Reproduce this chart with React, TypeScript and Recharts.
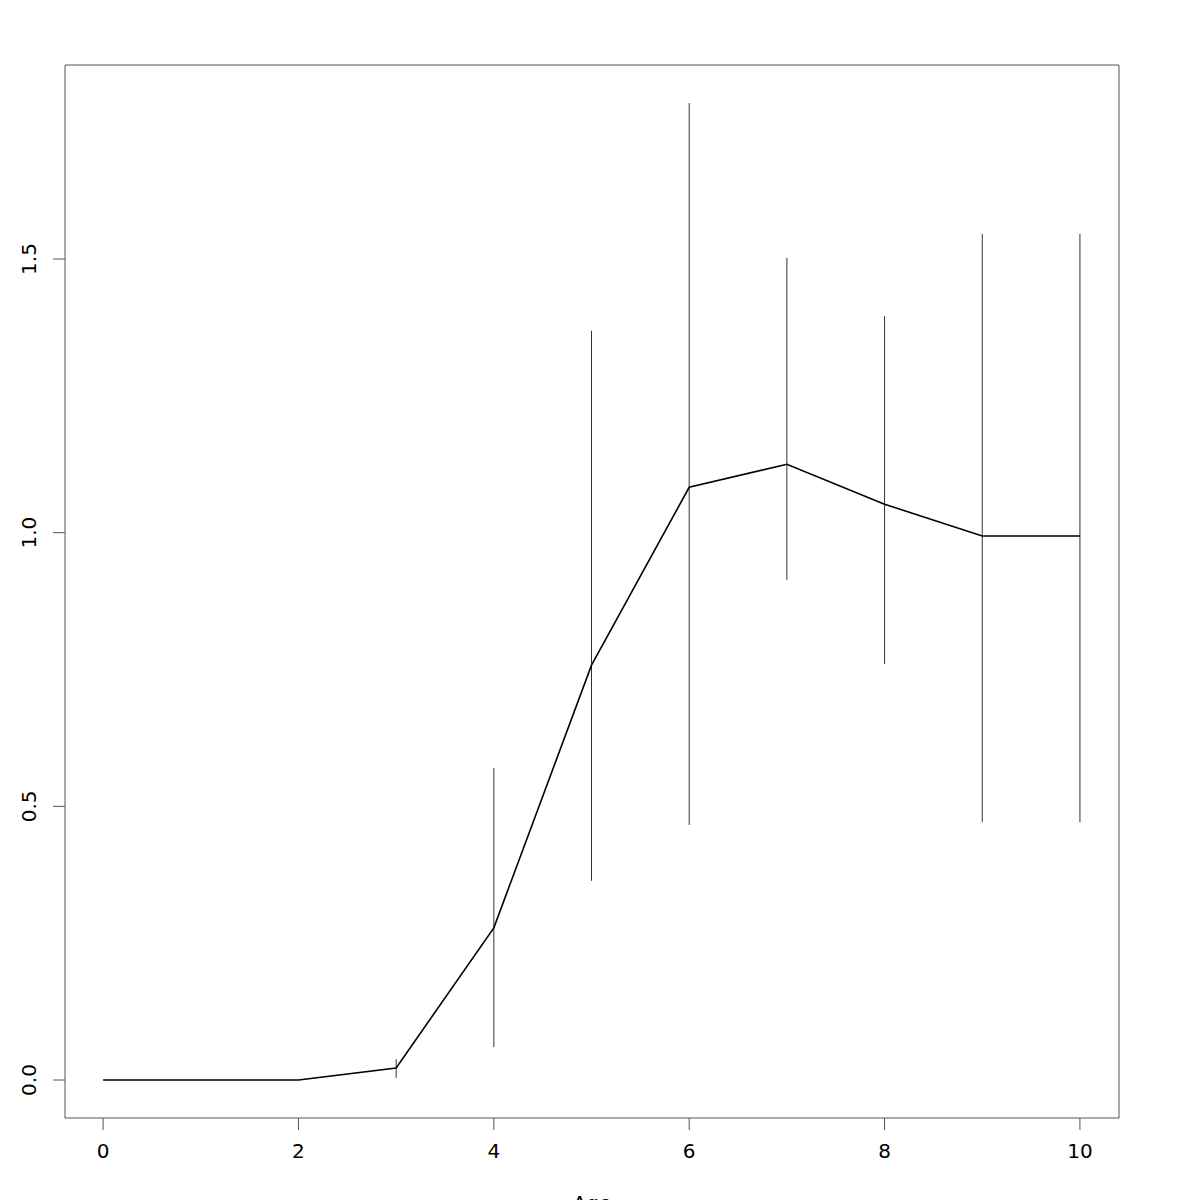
import {
  ComposedChart,
  ErrorBar,
  Label,
  Line,
  ReferenceArea,
  XAxis,
  YAxis,
} from "recharts";

const ages = [0, 1, 2, 3, 4, 5, 6, 7, 8, 9, 10];
const meanValues = [0, 0, 0, 0.022, 0.278, 0.758, 1.083, 1.125, 1.052, 0.994, 0.994];
const lowerValues = [0, 0, 0, 0.004, 0.06, 0.364, 0.466, 0.914, 0.76, 0.471, 0.471];
const upperValues = [0, 0, 0, 0.038, 0.57, 1.369, 1.785, 1.502, 1.396, 1.546, 1.546];
const xTicks = [0, 2, 4, 6, 8, 10];
const yTicks = [0, 0.5, 1, 1.5];

const X_DOMAIN: [number, number] = [-0.39, 10.4];
const Y_DOMAIN: [number, number] = [-0.0694, 1.8545];

const data = ages.map((age, i) => ({
  age,
  mean: meanValues[i],
  err: [meanValues[i] - lowerValues[i], upperValues[i] - meanValues[i]],
}));

const FONT = "'DejaVu Sans', sans-serif";

function XTick({ x, y, payload }: any) {
  return (
    <text x={x} y={y + 26} textAnchor="middle" fontFamily={FONT} fontSize={20} fill="#000">
      {payload.value}
    </text>
  );
}

function YTick({ y, payload }: any) {
  const cx = 29;
  return (
    <text
      x={cx}
      y={y}
      transform={`rotate(-90, ${cx}, ${y})`}
      textAnchor="middle"
      dominantBaseline="central"
      fontFamily={FONT}
      fontSize={20}
      fill="#000"
    >
      {payload.value.toFixed(1)}
    </text>
  );
}

export default function App() {
  return (
    <div style={{ position: "absolute", left: 0, top: 0, background: "#fff" }}>
      <ComposedChart
        width={1200}
        height={1200}
        data={data}
        margin={{ top: 65, right: 81, bottom: 0, left: 0 }}
      >
        <XAxis
          dataKey="age"
          type="number"
          domain={X_DOMAIN}
          ticks={xTicks}
          allowDataOverflow
          height={82}
          axisLine={false}
          tickSize={12}
          tickLine={{ stroke: "#555" }}
          tick={<XTick />}
        >
          <Label
            value="Age"
            position="insideBottom"
            offset={-10}
            style={{ fontFamily: FONT, fontSize: 20, fill: "#000" }}
          />
        </XAxis>
        <YAxis
          type="number"
          domain={Y_DOMAIN}
          ticks={yTicks}
          allowDataOverflow
          width={65}
          axisLine={false}
          tickSize={12}
          tickLine={{ stroke: "#555" }}
          tick={<YTick />}
        />
        <ReferenceArea
          x1={X_DOMAIN[0]}
          x2={X_DOMAIN[1]}
          y1={Y_DOMAIN[0]}
          y2={Y_DOMAIN[1]}
          fill="none"
          stroke="#555"
          strokeWidth={1}
          ifOverflow="visible"
        />
        <Line
          dataKey="mean"
          type="linear"
          stroke="#000"
          strokeWidth={1.6}
          dot={false}
          isAnimationActive={false}
        >
          <ErrorBar dataKey="err" direction="y" width={0} stroke="#333" strokeWidth={1} />
        </Line>
      </ComposedChart>
    </div>
  );
}
